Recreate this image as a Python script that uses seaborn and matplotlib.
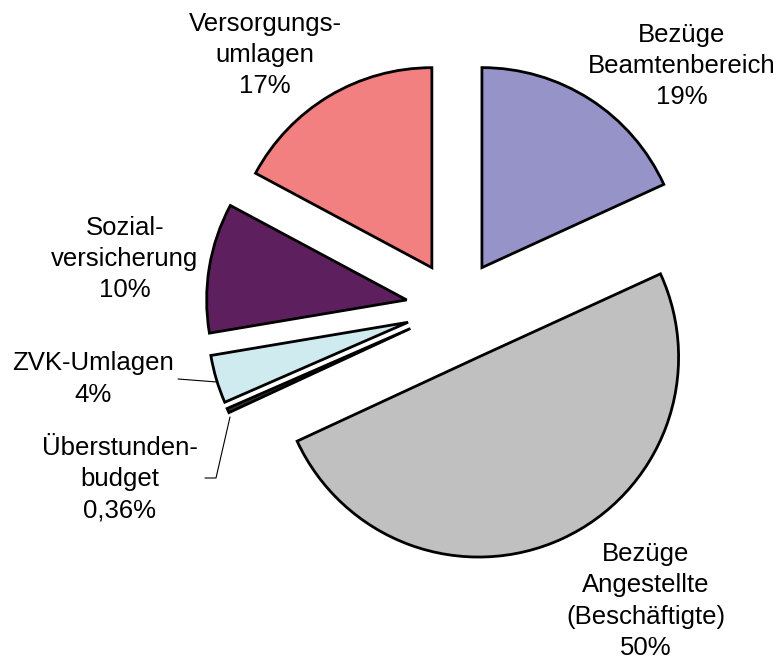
import matplotlib
matplotlib.use("Agg")
import matplotlib.pyplot as plt
import seaborn as sns

# data (clockwise from 12 o'clock)
categories = ["Bezüge\nBeamtenbereich", "Bezüge\nAngestellte\n(Beschäftigte)",
              "Überstunden-\nbudget", "ZVK-Umlagen", "Sozial-\nversicherung",
              "Versorgungs-\numlagen"]
shares = [18.2, 50.0, 0.36, 3.9, 10.5, 17.2]
pct_labels = ["19%", "50%", "0,36%", "4%", "10%", "17%"]
colors = ["#9593C8", "#C0C0C0", "#333333", "#D0EBF0", "#5E1F5E", "#F28080"]
explode = [0.24, 0.27, 0.25, 0.25, 0.25, 0.235]

sns.set_theme(style="white")
plt.rcParams["font.family"] = ["Liberation Sans", "DejaVu Sans"]

W, H = 782, 662
R = 200.0          # pie radius in pixels
CX, CY = 456, 308  # pie centre in pixels (from top-left)

fig = plt.figure(figsize=(W / 100, H / 100), dpi=100)
ax = fig.add_axes([0, 0, 1, 1])

wedges, _ = ax.pie(shares, colors=colors, explode=explode, startangle=90,
                   counterclock=False, radius=1.0,
                   wedgeprops=dict(edgecolor="black", linewidth=2))
ax.set_xlim(-CX / R, (W - CX) / R)
ax.set_ylim(-(H - CY) / R, CY / R)
ax.set_aspect("equal")
ax.axis("off")


def px(x, y):
    return (x - CX) / R, (CY - y) / R


# label block centres in pixels
label_pos = [(682, 66), (646, 601), (120, 479), (93, 379), (125, 259), (265, 55)]
for name, pct, (x, y) in zip(categories, pct_labels, label_pos):
    ax.text(*px(x, y), f"{name}\n{pct}", ha="center", va="center",
            fontsize=18.5, linespacing=1.37, color="black")

# leader lines for the two small slices
zx, zy = zip(px(178, 379), px(217, 382))
ax.plot(zx, zy, color="black", linewidth=0.8)
ux, uy = zip(px(205, 478), px(216, 478), px(230, 417))
ax.plot(ux, uy, color="black", linewidth=0.8)

fig.savefig("out.png", dpi=100)
